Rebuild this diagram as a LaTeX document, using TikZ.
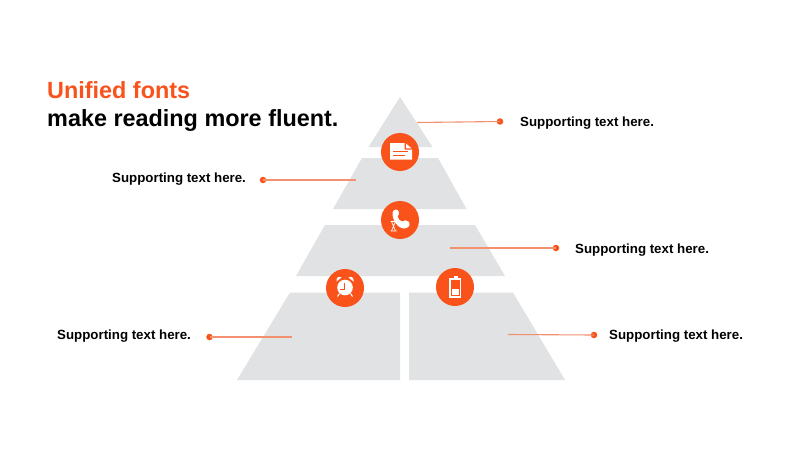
\documentclass[tikz,border=0pt]{standalone}
\usepackage{fontspec}
\setmainfont{Liberation Sans}
\definecolor{orangeA}{HTML}{F9531B}
\definecolor{lineA}{HTML}{F3906F}
\definecolor{greyA}{HTML}{E1E2E3}
\tikzset{
  x=1pt,y=-1pt,
  tier/.style={fill=greyA,draw=none},
  badge/.style={circle,fill=orangeA,draw=none,minimum size=38pt,inner sep=0pt},
  dotmark/.style={circle,fill=orangeA,draw=none,minimum size=6.5pt,inner sep=0pt},
  lead/.style={draw=lineA,line width=1.1pt},
  anchorpt/.style={inner sep=0pt,minimum size=0pt},
  support/.style={font=\fontsize{13.3pt}{15pt}\selectfont\bfseries,text=black,inner sep=0pt,anchor=west},
  titletext/.style={inner sep=0pt,anchor=base west,font=\fontsize{23.4pt}{28pt}\selectfont\bfseries},
  icon/.style={fill=white,draw=none}
}
\begin{document}
\begin{tikzpicture}
\useasboundingbox (0,0) rectangle (800,450);
\fill[white] (0,0) rectangle (800,450);
% tiers
\path[tier] (400,97) -- (432.5,147) -- (368.5,147) -- cycle;
\path[tier] (362,158) -- (438,158) -- (466.5,209) -- (333,209) -- cycle;
\path[tier] (325,225) -- (475,225) -- (505,276) -- (296,276) -- cycle;
\path[tier] (290,292.5) -- (400,292.5) -- (400,380) -- (237,380) -- cycle;
\path[tier] (409,292.5) -- (513,292.5) -- (565,380) -- (409,380) -- cycle;
% title
\node[titletext,text=orangeA] (title1) at (47,98) {Unified fonts};
\node[titletext,text=black] (title2) at (47,126) {make reading more fluent.};
% labels
\node[support] (l1) at (520,123.5) {Supporting text here.};
\node[support] (l2) at (112,179) {Supporting text here.};
\node[support] (l3) at (575,250) {Supporting text here.};
\node[support] (l4) at (57,336.5) {Supporting text here.};
\node[support] (l5) at (609,336.5) {Supporting text here.};
% leaders
\node[dotmark] (d1) at (500,121.5) {};
\node[anchorpt] (e1) at (417,122.5) {};
\draw[lead] (d1.center) -- (e1);
\node[dotmark] (d2) at (263,180) {};
\node[anchorpt] (e2) at (356,180) {};
\draw[lead] (d2.center) -- (e2);
\node[dotmark] (d3) at (556,248) {};
\node[anchorpt] (e3) at (450,248) {};
\draw[lead] (d3.center) -- (e3);
\node[dotmark] (d4) at (209.5,337) {};
\node[anchorpt] (e4) at (292,337) {};
\draw[lead] (d4.center) -- (e4);
\node[dotmark] (d5) at (594,335) {};
\node[anchorpt] (e5) at (508,334.5) {};
\draw[lead] (d5.center) -- (e5);
% badges
\node[badge] (b1) at (400,152) {};
\node[badge] (b2) at (400,220) {};
\node[badge] (b3) at (345,288) {};
\node[badge] (b4) at (455,287) {};
% document icon
\path[icon] (390,143) -- (404.5,143) -- (404.5,149.5) -- (412,149.5) -- (412,159.5) -- (390,159.5) -- cycle;
\path[icon] (406,143.5) -- (411.5,148.3) -- (406,148.3) -- cycle;
\draw[draw=orangeA,line width=.8pt] (393,151.5) -- (408,151.5) (393,155) -- (405,155);
% phone + hourglass icon
\path[icon] (392.5,212.5) .. controls (393,209.5) and (397,208.5) .. (398.5,211) .. controls (399.5,213) and (399,215.5) .. (397.5,216.5) .. controls (398,219) and (400,221) .. (402,221.5) .. controls (404,219.5) and (407.5,220) .. (409,222) .. controls (411,225) and (408,228.5) .. (404,228.5) .. controls (398,228.5) and (392,220) .. (392.5,212.5) -- cycle;
\draw[draw=white,line width=.7pt,fill=none] (390.5,221.5) -- (396.5,221.5) (390.5,231) -- (396.5,231)
  (391.5,221.5) -- (395.5,231) (395.5,221.5) -- (391.5,231);
% alarm clock icon
\path[icon] (345,287.5) circle (7.8pt);
\path[icon] (336.5,281.5) .. controls (335.5,278) and (339,275.5) .. (341.5,277.5) -- cycle;
\path[icon] (353.5,281.5) .. controls (354.5,278) and (351,275.5) .. (348.5,277.5) -- cycle;
\draw[draw=white,line width=1pt] (339.5,293.5) -- (337.5,296.5) (350.5,293.5) -- (352.5,296.5);
\draw[draw=orangeA,line width=.8pt,fill=none] (344,283) -- (344,289.5) -- (340,289.5);
% battery icon
\path[icon] (453.5,276) rectangle (457.5,279);
\draw[draw=white,line width=1.1pt,fill=none] (450,279) rectangle (460.5,297);
\path[icon] (452,288.5) rectangle (458.5,295);
\end{tikzpicture}
\end{document}
